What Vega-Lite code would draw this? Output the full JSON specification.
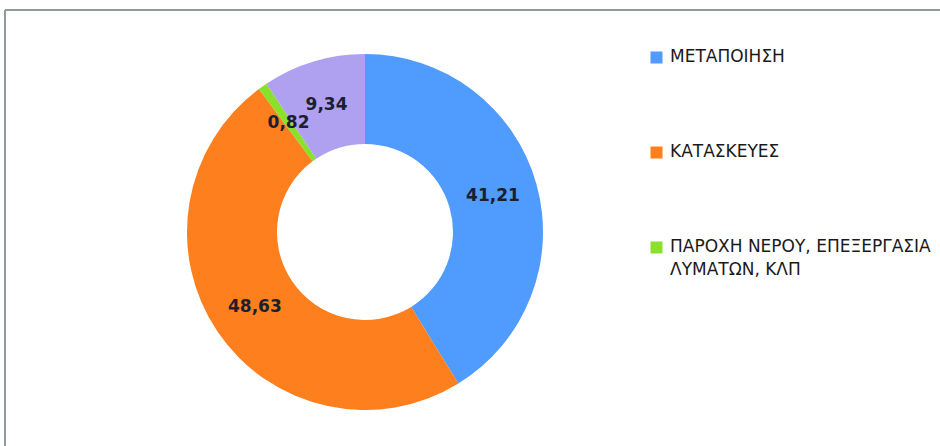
{
  "$schema": "https://vega.github.io/schema/vega-lite/v6.json",
  "width": 730,
  "height": 428,
  "autosize": {"type": "none"},
  "padding": {"left": 0, "top": 18, "right": 210, "bottom": 0},
  "background": "white",
  "config": {
    "view": {"stroke": null},
    "locale": {"number": {"decimal": ",", "thousands": ".", "grouping": [3], "currency": ["", " €"]}}
  },
  "data": {
    "values": [
      {"sector": "ΜΕΤΑΠΟΙΗΣΗ", "value": 41.21, "order": 1},
      {"sector": "ΚΑΤΑΣΚΕΥΕΣ", "value": 48.63, "order": 2},
      {"sector": "ΠΑΡΟΧΗ ΝΕΡΟΥ, ΕΠΕΞΕΡΓΑΣΙΑ ΛΥΜΑΤΩΝ, ΚΛΠ", "value": 0.82, "order": 3},
      {"sector": "ΟΡΥΧΕΙΑ ΚΑΙ ΛΑΤΟΜΕΙΑ", "value": 9.34, "order": 4}
    ]
  },
  "layer": [
    {
      "mark": {"type": "rule", "stroke": "#8c9c9c", "strokeWidth": 2},
      "encoding": {
        "x": {"value": 5},
        "x2": {"value": 940},
        "y": {"value": -8},
        "y2": {"value": -8}
      }
    },
    {
      "mark": {"type": "rule", "stroke": "#8c9c9c", "strokeWidth": 2},
      "encoding": {
        "x": {"value": 5},
        "x2": {"value": 5},
        "y": {"value": -8},
        "y2": {"value": 440}
      }
    },
    {
      "mark": {"type": "arc", "innerRadius": 88, "outerRadius": 178},
      "encoding": {
        "theta": {"field": "value", "type": "quantitative", "stack": true},
        "order": {"field": "order", "type": "quantitative"},
        "color": {
          "field": "sector",
          "type": "nominal",
          "scale": {
            "domain": ["ΜΕΤΑΠΟΙΗΣΗ", "ΚΑΤΑΣΚΕΥΕΣ", "ΠΑΡΟΧΗ ΝΕΡΟΥ, ΕΠΕΞΕΡΓΑΣΙΑ ΛΥΜΑΤΩΝ, ΚΛΠ", "ΟΡΥΧΕΙΑ ΚΑΙ ΛΑΤΟΜΕΙΑ"],
            "range": ["#4f9bfe", "#fd7f1e", "#8ae02a", "#b0a0f0"]
          },
          "legend": {
            "title": null,
            "orient": "none",
            "legendX": 648,
            "legendY": 31,
            "values": ["ΜΕΤΑΠΟΙΗΣΗ", "ΚΑΤΑΣΚΕΥΕΣ", "ΠΑΡΟΧΗ ΝΕΡΟΥ, ΕΠΕΞΕΡΓΑΣΙΑ ΛΥΜΑΤΩΝ, ΚΛΠ"],
            "symbolType": "square",
            "symbolSize": 144,
            "symbolStrokeWidth": 0,
            "labelFont": "DejaVu Sans",
            "labelFontSize": 17,
            "labelColor": "#1a1a1a",
            "labelOffset": 5,
            "labelLimit": 400,
            "labelBaseline": "top",
            "rowPadding": 77,
            "labelExpr": "datum.label == 'ΠΑΡΟΧΗ ΝΕΡΟΥ, ΕΠΕΞΕΡΓΑΣΙΑ ΛΥΜΑΤΩΝ, ΚΛΠ' ? ['ΠΑΡΟΧΗ ΝΕΡΟΥ, ΕΠΕΞΕΡΓΑΣΙΑ', 'ΛΥΜΑΤΩΝ, ΚΛΠ'] : datum.label",
            "padding": 0,
            "offset": 0,
            "encode": {
              "labels": {"update": {"dy": {"value": -9}, "lineHeight": {"value": 23}}}
            }
          }
        }
      }
    },
    {
      "mark": {"type": "text", "radius": 133, "font": "DejaVu Sans", "fontSize": 17, "fontWeight": "bold", "fill": "#1a2030"},
      "encoding": {
        "theta": {"field": "value", "type": "quantitative", "stack": true},
        "order": {"field": "order", "type": "quantitative"},
        "text": {"field": "value", "type": "quantitative", "format": ".2f"}
      }
    }
  ]
}
